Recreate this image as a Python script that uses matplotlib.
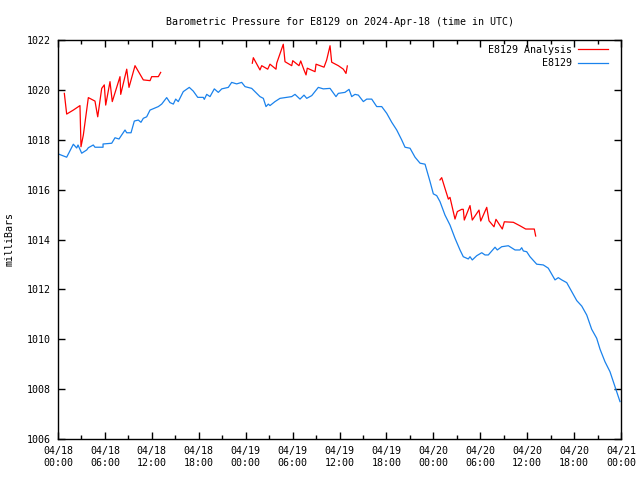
import matplotlib
matplotlib.use("Agg")
import matplotlib.pyplot as plt
import matplotlib.dates as mdates
import pandas as pd
import numpy as np

start = pd.Timestamp("2024-04-18 00:00")

# station obs (hours since start, mb)
obs_h = [0.04, 1.11, 1.96, 2.39, 2.56, 3.03, 3.67, 3.88, 4.51, 4.73, 5.76, 5.76, 6.87, 7.29, 7.80,
         8.57, 8.79, 9.34, 9.76, 10.27, 10.61, 10.91, 11.34, 11.77, 12.83, 13.26, 13.90, 14.32, 14.75,
         15.05, 15.38, 16.02, 16.79, 17.30, 17.87, 18.58, 18.71, 19.02, 19.44, 19.99, 20.50, 20.94,
         21.78, 22.21, 22.85, 23.49, 23.92, 24.77, 25.19, 25.83, 26.26, 26.60, 26.90, 27.11, 27.75,
         28.39, 29.89, 30.31, 30.95, 31.46, 31.81, 32.45, 33.29, 33.93, 34.79, 35.55, 35.85, 36.70,
         37.22, 37.56, 37.98, 38.41, 39.05, 39.48, 40.12, 40.76, 41.40, 42.04, 42.68, 43.32, 43.96,
         44.38, 45.02, 45.66, 46.30, 46.94, 47.58, 48.00, 48.43, 48.85, 49.49, 50.13, 50.77, 51.41,
         51.83, 52.47, 52.69, 52.98, 53.55, 54.19, 54.61, 55.03, 55.89, 56.18, 56.74, 57.59, 58.45,
         59.08, 59.30, 59.51, 59.94, 60.36, 61.22, 62.06, 62.70, 63.56, 63.98, 64.42, 65.06, 65.70,
         66.34, 66.98, 67.62, 68.25, 68.89, 69.32, 69.95, 70.59, 71.23, 71.87]
obs_p = [1017.43, 1017.30, 1017.82, 1017.67, 1017.79, 1017.46, 1017.59, 1017.68, 1017.79, 1017.70,
         1017.70, 1017.83, 1017.86, 1018.08, 1018.03, 1018.39, 1018.28, 1018.28, 1018.75, 1018.79,
         1018.70, 1018.86, 1018.92, 1019.19, 1019.33, 1019.43, 1019.69, 1019.49, 1019.43, 1019.63,
         1019.53, 1019.93, 1020.10, 1019.95, 1019.70, 1019.70, 1019.62, 1019.82, 1019.73, 1020.04,
         1019.90, 1020.04, 1020.10, 1020.30, 1020.24, 1020.30, 1020.13, 1020.06, 1019.93, 1019.73,
         1019.66, 1019.33, 1019.43, 1019.37, 1019.53, 1019.66, 1019.73, 1019.82, 1019.63, 1019.79,
         1019.66, 1019.77, 1020.10, 1020.04, 1020.06, 1019.73, 1019.86, 1019.90, 1020.02, 1019.73,
         1019.82, 1019.79, 1019.53, 1019.63, 1019.63, 1019.33, 1019.33, 1019.06, 1018.70, 1018.39,
         1017.99, 1017.70, 1017.66, 1017.30, 1017.06, 1017.02, 1016.32, 1015.83, 1015.76, 1015.52,
         1014.98, 1014.58, 1014.05, 1013.58, 1013.31, 1013.22, 1013.31, 1013.18, 1013.35, 1013.47,
         1013.38, 1013.38, 1013.69, 1013.58, 1013.71, 1013.75, 1013.58, 1013.58, 1013.67, 1013.54,
         1013.51, 1013.31, 1013.01, 1012.98, 1012.85, 1012.38, 1012.47, 1012.38, 1012.27, 1011.91,
         1011.55, 1011.33, 1010.97, 1010.40, 1010.04, 1009.60, 1009.10, 1008.70, 1008.10, 1007.50]

# analysis, three separate runs
an1_h = [0.81, 1.11, 1.96, 2.81, 2.94, 3.24, 3.88, 4.73, 5.08, 5.59, 5.92, 6.10, 6.65, 6.94, 7.93,
         8.02, 8.79, 9.08, 9.85, 10.91, 11.77, 11.98, 12.83, 13.13]
an1_p = [1019.86, 1019.03, 1019.19, 1019.37, 1017.72, 1018.19, 1019.69, 1019.55, 1018.92, 1020.06,
         1020.20, 1019.39, 1020.33, 1019.53, 1020.53, 1019.82, 1020.83, 1020.10, 1020.97, 1020.40,
         1020.37, 1020.53, 1020.53, 1020.70]
an2_h = [24.85, 24.98, 25.83, 26.05, 26.82, 27.11, 27.88, 27.97, 28.48, 28.81, 29.03, 29.89, 30.02,
         30.82, 31.04, 31.46, 31.72, 31.88, 32.87, 33.00, 34.02, 34.36, 34.79, 35.00, 35.85, 36.49,
         36.83, 37.00]
an2_p = [1021.07, 1021.29, 1020.80, 1020.97, 1020.83, 1021.03, 1020.83, 1021.07, 1021.53, 1021.83,
         1021.13, 1020.97, 1021.17, 1020.97, 1021.16, 1020.80, 1020.60, 1020.87, 1020.73, 1021.03,
         1020.91, 1021.20, 1021.77, 1021.11, 1020.97, 1020.83, 1020.66, 1020.96]
an3_h = [48.85, 49.07, 49.49, 49.92, 50.13, 50.77, 51.07, 51.63, 51.83, 51.96, 52.69, 52.98, 53.84,
         54.06, 54.83, 55.12, 55.76, 56.01, 56.82, 57.08, 58.23, 59.08, 59.81, 60.91, 61.09]
an3_p = [1016.39, 1016.48, 1016.05, 1015.62, 1015.69, 1014.82, 1015.12, 1015.21, 1015.21, 1014.78,
         1015.36, 1014.78, 1015.18, 1014.74, 1015.29, 1014.75, 1014.51, 1014.81, 1014.42, 1014.71,
         1014.69, 1014.55, 1014.42, 1014.42, 1014.14]


def tt(hours):
    return start + pd.to_timedelta(np.array(hours), unit="h")


plt.rcParams['font.family'] = ['DejaVu Sans Mono']
plt.rcParams['font.size'] = 7.2

fig = plt.figure(figsize=(6.4, 4.8), dpi=100)
ax = fig.add_axes([58/640, 41/480, 563/640, 399/480])

red = '#ff0000'
blue = '#1a82ec'
lw = 0.9
first = True
for h, p in [(an1_h, an1_p), (an2_h, an2_p), (an3_h, an3_p)]:
    ax.plot(tt(h), p, color=red, lw=lw, label='E8129 Analysis' if first else None)
    first = False
ax.plot(tt(obs_h), obs_p, color=blue, lw=lw, label='E8129')

ax.set_xlim(start, start + pd.Timedelta(hours=72))
ax.set_ylim(1006, 1022)
ax.set_yticks(np.arange(1006, 1023, 2))
ax.xaxis.set_major_locator(mdates.HourLocator(byhour=[0, 6, 12, 18]))
ax.xaxis.set_minor_locator(mdates.HourLocator(byhour=[3, 9, 15, 21]))
ax.xaxis.set_major_formatter(mdates.DateFormatter('%m/%d\n%H:%M'))
ax.tick_params(which='both', direction='in', top=True, right=True, width=1, pad=5)
ax.tick_params(which='major', length=5)
ax.tick_params(which='minor', length=3)
for s in ax.spines.values():
    s.set_linewidth(1)

ax.set_ylabel('milliBars', labelpad=9)
ax.set_title('Barometric Pressure for E8129 on 2024-Apr-18 (time in UTC)', fontsize=7.2, pad=11)

ax.legend(loc='upper right', frameon=False, markerfirst=False, handlelength=3.0,
          borderaxespad=0.3, labelspacing=0.35, handletextpad=0.6, borderpad=0.2,
          bbox_to_anchor=(0.985, 1.0))

fig.savefig('out.png', dpi=100)
